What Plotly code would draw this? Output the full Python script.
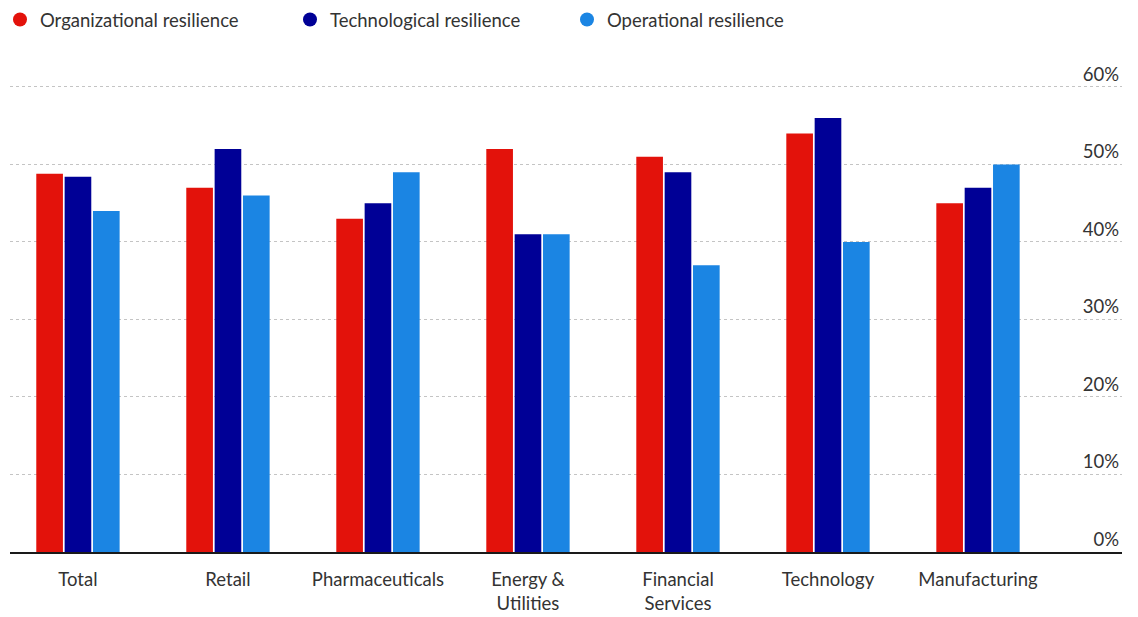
import plotly.graph_objects as go

# Share of respondents rating each resilience dimension, by sector
sectors = ["Total", "Retail", "Pharmaceuticals", "Energy &<br>Utilities",
           "Financial<br>Services", "Technology", "Manufacturing"]
organizational = [48.8, 47, 43, 52, 51, 54, 45]
technological = [48.4, 52, 45, 41, 49, 56, 47]
operational = [44, 46, 49, 41, 37, 40, 50]

series_names = ["Organizational resilience", "Technological resilience", "Operational resilience"]
series_values = [organizational, technological, operational]
colors = ["#E3120B", "#000096", "#1B85E3"]

y_ticks = [0, 10, 20, 30, 40, 50, 60]
y_tick_labels = [f"{v}%" for v in y_ticks]

FONT = "Lato"
TEXT = "#333333"

fig = go.Figure()

legend_ids = ["legend", "legend2", "legend3"]
for name, vals, col, lid in zip(series_names, series_values, colors, legend_ids):
    fig.add_trace(go.Bar(
        x=sectors, y=vals, name=name, marker_color=col,
        marker_line_width=0, showlegend=False,
        hovertemplate="%{x}: %{y}%<extra>" + name + "</extra>",
    ))
    # round legend key
    fig.add_trace(go.Scatter(
        x=[None], y=[None], mode="markers", name=name,
        marker=dict(symbol="circle", size=14, color=col),
        showlegend=True, legend=lid,
    ))

legend_style = dict(
    orientation="h", xref="container", yref="container",
    yanchor="middle", xanchor="left", y=1 - 20 / 617,
    font=dict(family=FONT, size=18.5, color=TEXT),
    bgcolor="rgba(0,0,0,0)", itemwidth=30, tracegroupgap=0,
)

# plot area: 0% at y=552.5 px, 60% at y=87 px
px_per_unit = (552.5 - 87) / 60
top_margin = 55
y_max = 60 + (87 - top_margin) / px_per_unit

fig.update_layout(
    width=1138, height=617,
    margin=dict(l=10, r=16, t=top_margin, b=64.5, pad=0, autoexpand=False),
    paper_bgcolor="white", plot_bgcolor="white",
    barmode="group", bargap=0.433, bargroupgap=0.06,
    font=dict(family=FONT, size=18, color=TEXT),
    legend=dict(legend_style, x=0),
    legend2=dict(legend_style, x=290 / 1138),
    legend3=dict(legend_style, x=567 / 1138),
    xaxis=dict(
        range=[-0.453, 6.96], showgrid=False, automargin=False,
        showline=True, linecolor="#1a1a1a", linewidth=1.5,
        ticks="", ticklabelstandoff=10,
        tickfont=dict(family=FONT, size=18.5, color=TEXT),
        fixedrange=True,
    ),
    yaxis=dict(
        range=[0, y_max], side="right", automargin=False,
        tickvals=y_ticks, ticktext=y_tick_labels,
        ticklabelposition="inside top",
        tickfont=dict(family=FONT, size=18.5, color=TEXT),
        showgrid=True, gridcolor="#c4c4c4", griddash="dot", gridwidth=1,
        zeroline=False, ticks="", fixedrange=True,
    ),
)

fig.write_html("out.html")
